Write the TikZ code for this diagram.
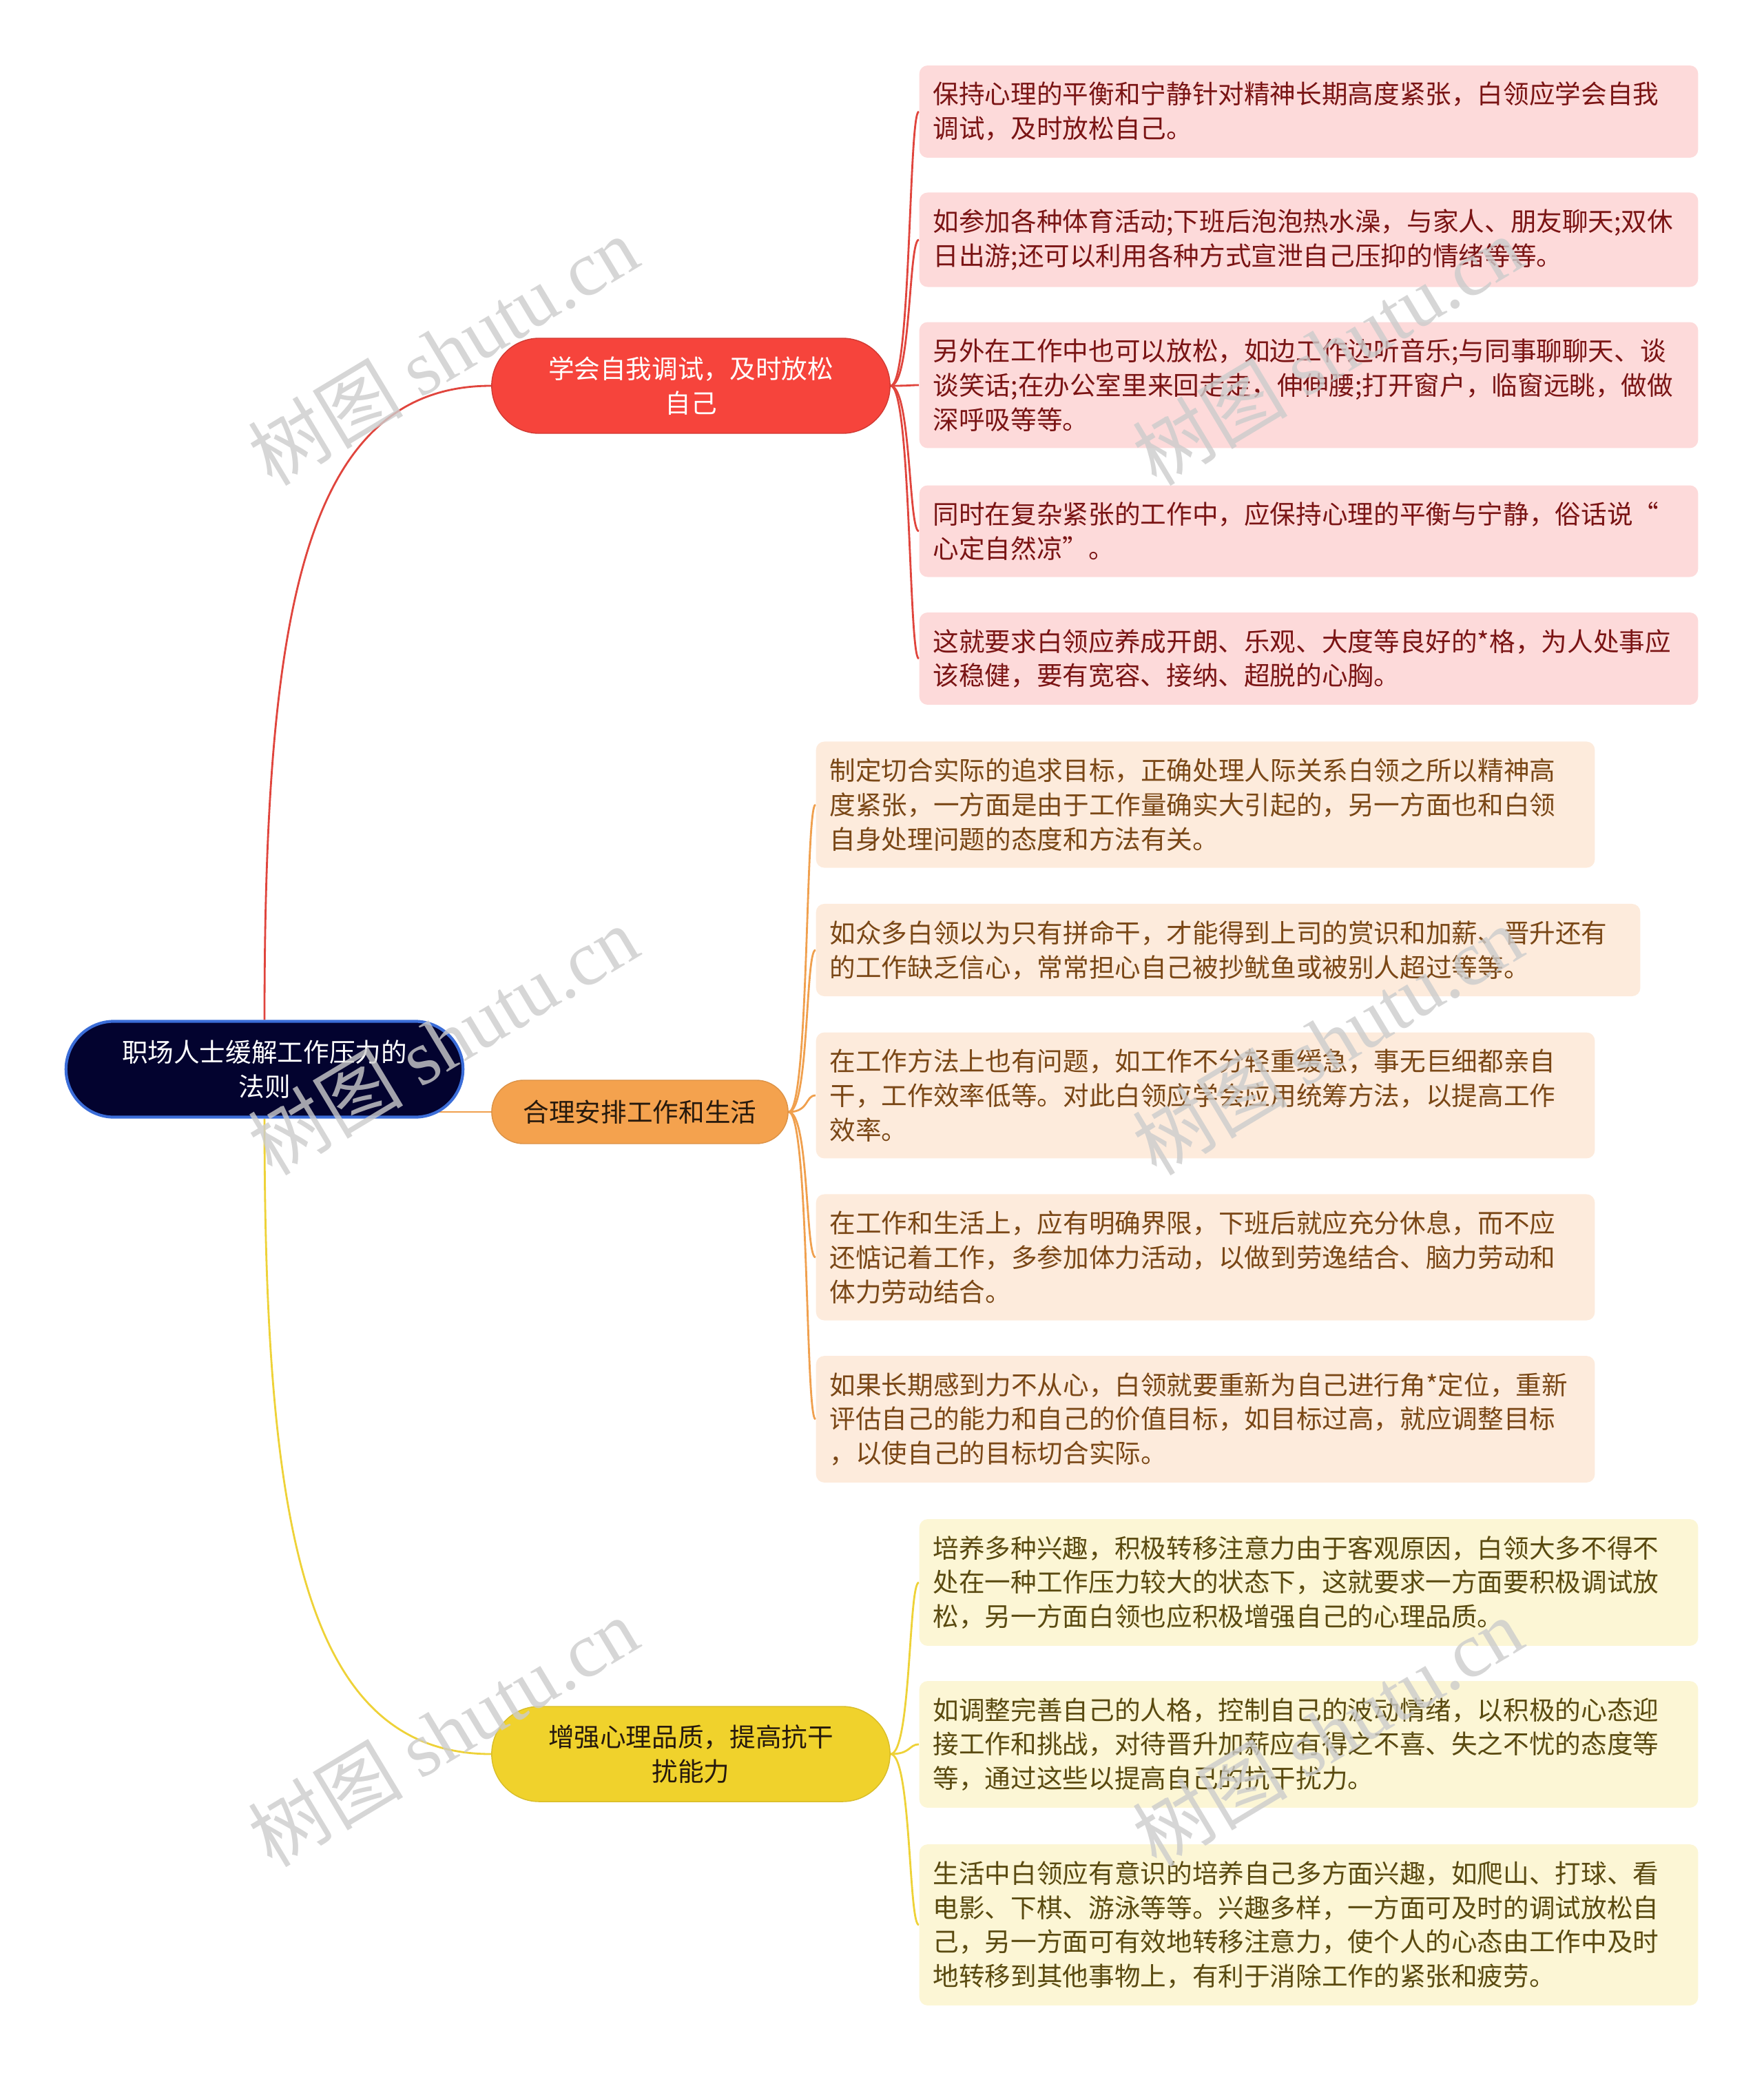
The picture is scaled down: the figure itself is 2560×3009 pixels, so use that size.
\documentclass[tikz,border=0pt]{standalone}
\usepackage{fontspec}
\setmainfont{Noto Sans CJK SC}
\newfontfamily\wmlatin{Liberation Serif}
\usepackage{tikz}
\usetikzlibrary{shapes.misc, backgrounds}

\definecolor{rootfill}{HTML}{03032F}
\definecolor{rootedge}{HTML}{3B6DD8}
\definecolor{redfill}{HTML}{F6443C}
\definecolor{orangefill}{HTML}{F4A24E}
\definecolor{yellowfill}{HTML}{F0D22C}
\definecolor{redleaf}{HTML}{FDDADA}
\definecolor{orangeleaf}{HTML}{FDEBDC}
\definecolor{yellowleaf}{HTML}{FCF6D5}
\definecolor{redtxt}{HTML}{7A1414}
\definecolor{orangetxt}{HTML}{7A4716}
\definecolor{yellowtxt}{HTML}{5A4A10}
\definecolor{redwire}{HTML}{E0453D}
\definecolor{orangewire}{HTML}{F0A04E}
\definecolor{yellowwire}{HTML}{EED238}

\newcommand\leaffont{\fontsize{10.7pt}{14.2pt}\selectfont}

\begin{document}
\begin{tikzpicture}[
    x=0.01cm, y=-0.01cm,
    every node/.style={font=\leaffont, inner sep=0pt},
    root/.style={rounded rectangle, minimum width=5.76cm, minimum height=1.39cm,
        fill=rootfill, draw=rootedge, line width=1.2pt, text=white, align=center},
    branch/.style={rounded rectangle, minimum width=5.78cm, minimum height=1.38cm,
        align=center, line width=0.4pt},
    leaf/.style={rectangle, rounded corners=0.12cm, anchor=west, align=left,
        text width=10.9cm, inner xsep=0.2cm, inner ysep=0.24cm},
    wire/.style={line width=0.8pt},
    wmark/.style={rotate=31, text=black!20, opacity=0.8,
        font=\fontsize{32pt}{32pt}\selectfont}
]
\useasboundingbox (0,0) rectangle (2560,3009);

% Root
\node[root] (root) at (384,1552) {职场人士缓解工作压力的\\法则};

% Branches
\node[branch, fill=redfill, draw=redfill!85!black, text=white] (rb) at (1003,560) {学会自我调试，及时放松\\自己};
\node[branch, fill=orangefill, draw=orangefill!90!black, text=black!80!brown, minimum width=4.3cm, minimum height=0.92cm] (ob) at (929,1614) {合理安排工作和生活};
\node[branch, fill=yellowfill, draw=yellowfill!90!black, text=black!80!brown] (yb) at (1003,2546) {增强心理品质，提高抗干\\扰能力};

% Red leaves
\node[leaf, fill=redleaf, text=redtxt] (r1) at (1334,162) {保持心理的平衡和宁静针对精神长期高度紧张，白领应学会自我\\调试，及时放松自己。};
\node[leaf, fill=redleaf, text=redtxt] (r2) at (1334,348) {如参加各种体育活动;下班后泡泡热水澡，与家人、朋友聊天;双休\\日出游;还可以利用各种方式宣泄自己压抑的情绪等等。};
\node[leaf, fill=redleaf, text=redtxt] (r3) at (1334,559) {另外在工作中也可以放松，如边工作边听音乐;与同事聊聊天、谈\\谈笑话;在办公室里来回走走，伸伸腰;打开窗户，临窗远眺，做做\\深呼吸等等。};
\node[leaf, fill=redleaf, text=redtxt] (r4) at (1334,771) {同时在复杂紧张的工作中，应保持心理的平衡与宁静，俗话说“\\心定自然凉”。};
\node[leaf, fill=redleaf, text=redtxt] (r5) at (1334,956) {这就要求白领应养成开朗、乐观、大度等良好的*格，为人处事应\\该稳健，要有宽容、接纳、超脱的心胸。};

% Orange leaves
\node[leaf, fill=orangeleaf, text=orangetxt] (o1) at (1184,1168) {制定切合实际的追求目标，正确处理人际关系白领之所以精神高\\度紧张，一方面是由于工作量确实大引起的，另一方面也和白领\\自身处理问题的态度和方法有关。};
\node[leaf, fill=orangeleaf, text=orangetxt, text width=11.56cm] (o2) at (1184,1379) {如众多白领以为只有拼命干，才能得到上司的赏识和加薪、晋升还有\\的工作缺乏信心，常常担心自己被抄鱿鱼或被别人超过等等。};
\node[leaf, fill=orangeleaf, text=orangetxt] (o3) at (1184,1590) {在工作方法上也有问题，如工作不分轻重缓急，事无巨细都亲自\\干，工作效率低等。对此白领应学会应用统筹方法，以提高工作\\效率。};
\node[leaf, fill=orangeleaf, text=orangetxt] (o4) at (1184,1825) {在工作和生活上，应有明确界限，下班后就应充分休息，而不应\\还惦记着工作，多参加体力活动，以做到劳逸结合、脑力劳动和\\体力劳动结合。};
\node[leaf, fill=orangeleaf, text=orangetxt] (o5) at (1184,2060) {如果长期感到力不从心，白领就要重新为自己进行角*定位，重新\\评估自己的能力和自己的价值目标，如目标过高，就应调整目标\\，以使自己的目标切合实际。};

% Yellow leaves
\node[leaf, fill=yellowleaf, text=yellowtxt] (y1) at (1334,2297) {培养多种兴趣，积极转移注意力由于客观原因，白领大多不得不\\处在一种工作压力较大的状态下，这就要求一方面要积极调试放\\松，另一方面白领也应积极增强自己的心理品质。};
\node[leaf, fill=yellowleaf, text=yellowtxt] (y2) at (1334,2532) {如调整完善自己的人格，控制自己的波动情绪，以积极的心态迎\\接工作和挑战，对待晋升加薪应有得之不喜、失之不忧的态度等\\等，通过这些以提高自己的抗干扰力。};
\node[leaf, fill=yellowleaf, text=yellowtxt] (y3) at (1334,2794) {生活中白领应有意识的培养自己多方面兴趣，如爬山、打球、看\\电影、下棋、游泳等等。兴趣多样，一方面可及时的调试放松自\\己，另一方面可有效地转移注意力，使个人的心态由工作中及时\\地转移到其他事物上，有利于消除工作的紧张和疲劳。};

\begin{scope}[on background layer]
% Root to branches
\draw[wire, redwire] (root.north) .. controls +(0,-583) and +(-274,0) .. (rb.west);
\draw[wire, orangewire] (root.center |- ob.west) -- (ob.west);
\draw[wire, yellowwire] (root.south) .. controls +(0,583) and +(-274,0) .. (yb.west);

% Branches to leaves
\foreach \leafname in {r1,r2,r3,r4,r5}
    \draw[wire, redwire] (rb.east) .. controls +(30,0) and +(-15,0) .. (\leafname.west);
\foreach \leafname in {o1,o2,o3,o4,o5}
    \draw[wire, orangewire] (ob.east) .. controls +(30,0) and +(-15,0) .. (\leafname.west);
\foreach \leafname in {y1,y2,y3}
    \draw[wire, yellowwire] (yb.east) .. controls +(30,0) and +(-15,0) .. (\leafname.west);
\end{scope}

% Watermarks
\node[wmark] (wm1) at (643,509) {树图 {\wmlatin shutu.cn}};
\node[wmark] (wm2) at (643,1510) {树图 {\wmlatin shutu.cn}};
\node[wmark] (wm3) at (643,2514) {树图 {\wmlatin shutu.cn}};
\node[wmark] (wm4) at (1927,509) {树图 {\wmlatin shutu.cn}};
\node[wmark] (wm5) at (1927,1510) {树图 {\wmlatin shutu.cn}};
\node[wmark] (wm6) at (1927,2514) {树图 {\wmlatin shutu.cn}};

\end{tikzpicture}
\end{document}
